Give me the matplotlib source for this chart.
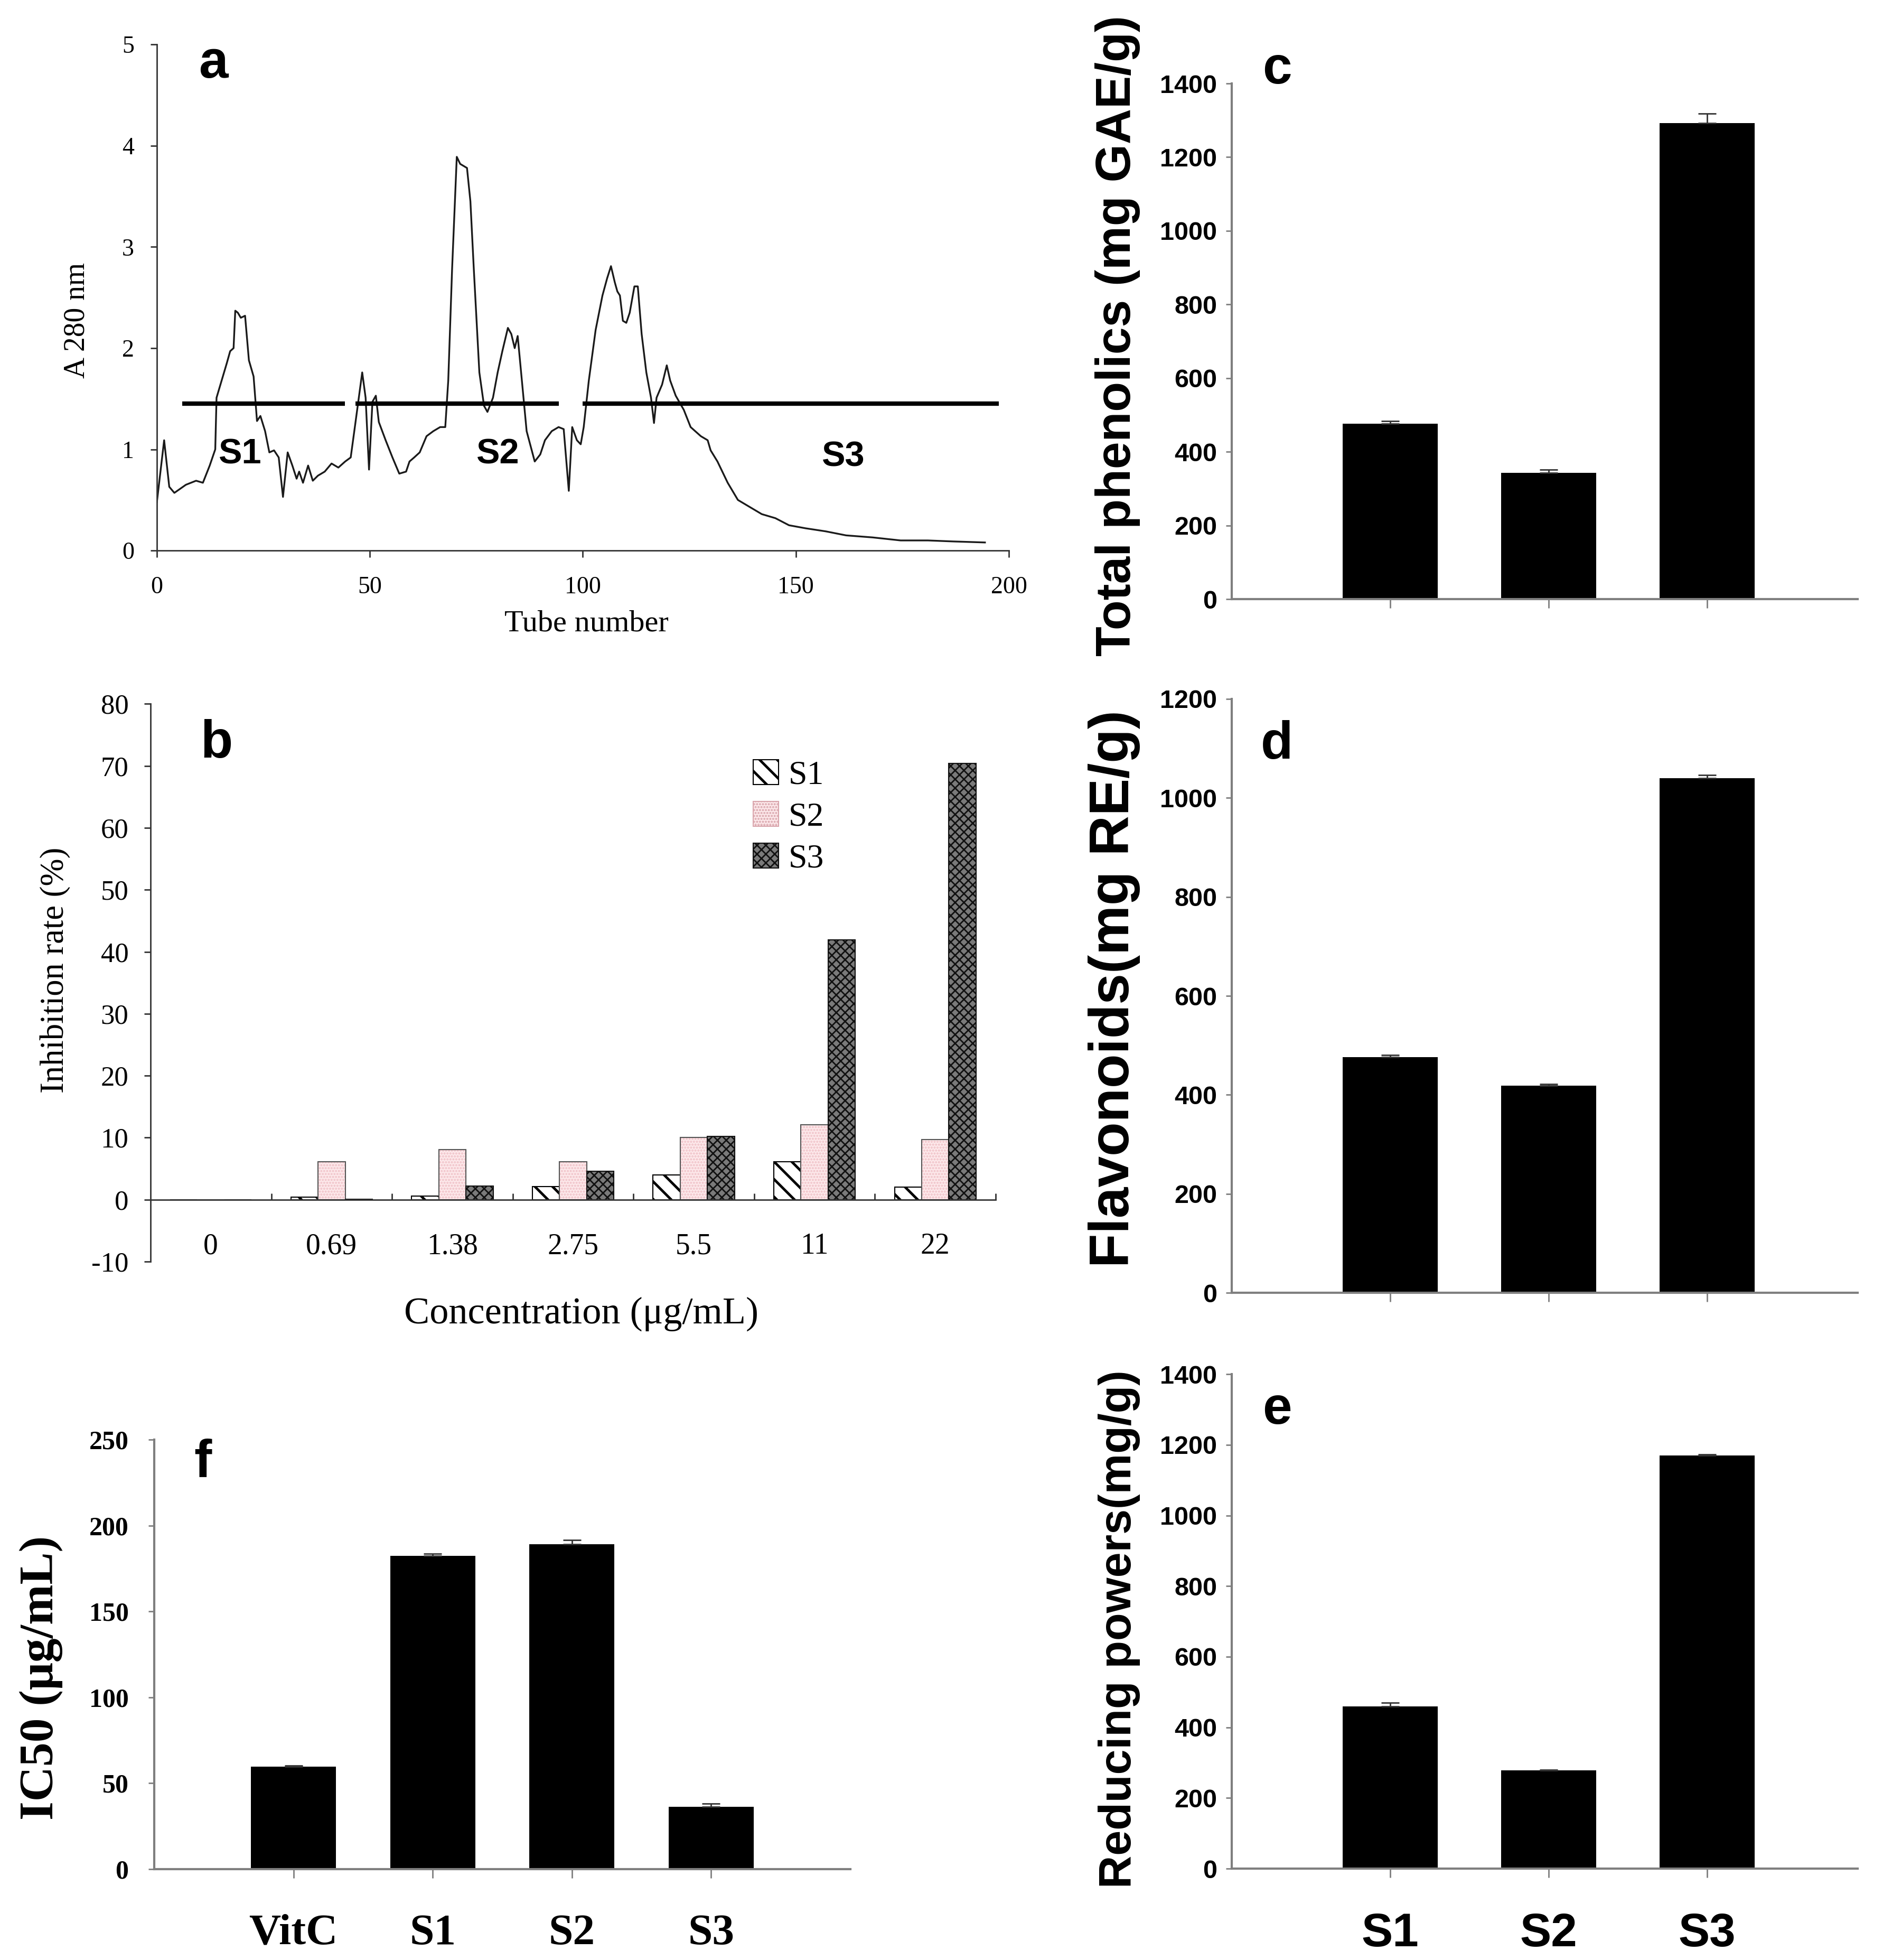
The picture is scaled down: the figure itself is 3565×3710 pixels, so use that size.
import matplotlib
matplotlib.use("Agg")
import matplotlib.pyplot as plt
import numpy as np
from matplotlib import font_manager
from matplotlib.patches import Patch

# ---------------- data ----------------
# panel a: elution profile
tube = [0, 1.7, 2.9, 4.1, 6.8, 9.2, 10.8, 12.4, 13.7, 14.0, 16.4, 17.2, 18.0, 18.4, 19.0,
        19.7, 20.7, 21.6, 22.7, 23.5, 24.3, 25.4, 26.4, 27.5, 28.6, 29.6, 30.7, 31.8, 32.8,
        33.4, 34.3, 35.5, 36.6, 37.8, 39.4, 41.0, 42.6, 44.2, 45.5, 46.6, 48.2, 49.0, 49.8,
        50.6, 51.4, 52.1, 53.7, 55.3, 56.9, 58.5, 59.3, 60.4, 61.7, 63.3, 64.9, 66.5, 67.7,
        68.4, 69.3, 70.4, 71.2, 72.0, 72.8, 73.6, 74.4, 75.7, 76.8, 77.6, 78.9, 80.0, 81.1,
        82.4, 83.2, 84.0, 84.7, 85.5, 86.8, 88.7, 90.0, 91.1, 92.7, 94.3, 95.5, 96.7, 97.5,
        98.6, 99.5, 100.2, 101.4, 103.0, 104.6, 105.7, 106.6, 107.5, 108.1, 108.7, 109.4,
        110.2, 111.0, 112.1, 112.9, 113.8, 114.9, 116.0, 116.7, 117.3, 118.6, 119.7, 120.5,
        121.8, 123.7, 125.3, 127.7, 129.3, 130.0, 131.6, 134.0, 136.4, 139.6, 142.0, 145.2,
        148.4, 152.3, 157.0, 161.8, 168.0, 174.6, 181.0, 187.0, 194.4]
a280 = [0.48, 1.09, 0.63, 0.57, 0.65, 0.69, 0.67, 0.84, 1.0, 1.51, 1.85, 1.97, 2.0, 2.37, 2.35,
        2.3, 2.32, 1.88, 1.72, 1.28, 1.33, 1.18, 0.97, 0.99, 0.92, 0.53, 0.97, 0.84, 0.71,
        0.78, 0.67, 0.84, 0.69, 0.74, 0.78, 0.86, 0.82, 0.88, 0.92, 1.26, 1.76, 1.51, 0.8,
        1.47, 1.53, 1.27, 1.09, 0.92, 0.76, 0.78, 0.88, 0.92, 0.97, 1.13, 1.18, 1.22, 1.22,
        1.68, 2.78, 3.89, 3.82, 3.8, 3.78, 3.45, 2.78, 1.76, 1.43, 1.37, 1.51, 1.76, 1.97,
        2.2, 2.14, 2.0, 2.12, 1.76, 1.18, 0.88, 0.95, 1.09, 1.18, 1.22, 1.2, 0.59, 1.22,
        1.09, 1.05, 1.22, 1.68, 2.18, 2.52, 2.69, 2.81, 2.65, 2.56, 2.52, 2.27,
        2.25, 2.35, 2.61, 2.61, 2.14, 1.76, 1.51, 1.26, 1.51, 1.64, 1.83, 1.68,
        1.53, 1.39, 1.22, 1.13, 1.09, 0.99, 0.88, 0.67, 0.5, 0.42, 0.36, 0.32,
        0.25, 0.22, 0.19, 0.15, 0.13, 0.10, 0.10, 0.09, 0.08]
fractions = ["S1", "S2", "S3"]
frac_start = [6, 46.6, 100]
frac_end = [44.2, 94.3, 197.6]
frac_level = 1.45
frac_label_x = [19.5, 80, 161]
frac_label_y = [0.95, 0.95, 0.92]

# panel b: inhibition rate
conc = ["0", "0.69", "1.38", "2.75", "5.5", "11", "22"]
inh_s1 = [0, 0.4, 0.6, 2.1, 4.0, 6.1, 2.0]
inh_s2 = [0, 6.1, 8.1, 6.1, 10.0, 12.1, 9.7]
inh_s3 = [0, 0.1, 2.2, 4.6, 10.2, 41.9, 70.4]

# panels c-e
samples = ["S1", "S2", "S3"]
phenolics = [477, 343, 1293]
phenolics_err = [6, 8, 25]
flavonoids = [476, 419, 1040]
flavonoids_err = [4, 3, 6]
reducing = [459, 278, 1170]
reducing_err = [11, 2, 3]

# panel f
ic50_names = ["VitC", "S1", "S2", "S3"]
ic50 = [59.6, 182.2, 189.1, 36.4]
ic50_err = [0.5, 1.5, 2.4, 1.8]

# ---------------- style ----------------
names = {f.name for f in font_manager.fontManager.ttflist}
SERIF = "Liberation Serif"
SANS = "Liberation Sans"
NARROW = "Liberation Sans Narrow" if "Liberation Sans Narrow" in names else SANS
plt.rcParams["hatch.linewidth"] = 2.0
plt.rcParams["axes.unicode_minus"] = False
GREY = "#7f7f7f"
HATCH_S1 = "\\"
HATCH_S3 = "xx"
S2_FACE = "#fde9eb"
S2_DOTS = "#f0c2c8"
S3_FACE = "#7a7a7a"

fig = plt.figure(figsize=(35.66, 37.10), dpi=100)


def letter(ax, s, x, y):
    ax.text(x, y, s, transform=ax.transAxes, ha="center", va="center",
            fontsize=72, fontweight="bold", family=SANS)


def thick_hatch(patches, lw):
    for p in patches:
        if hasattr(p, "set_hatch_linewidth"):
            p.set_hatch_linewidth(lw)


# ---------------- a ----------------
ax = fig.add_axes([0.0833, 0.7191, 0.4523, 0.2582])
ax.plot(tube, a280, color="#1a1a1a", lw=2.4)
ax.hlines([frac_level] * 3, frac_start, frac_end, color="black", lw=6)
for name, x, y in zip(fractions, frac_label_x, frac_label_y):
    ax.text(x, y, name, ha="center", va="center", fontsize=48, fontweight="bold", family=NARROW)
ax.set_xlim(0, 200)
ax.set_ylim(0, 5)
ax.set_xticks([0, 50, 100, 150, 200])
ax.set_yticks(range(6))
for s in ["top", "right"]:
    ax.spines[s].set_visible(False)
for s in ["left", "bottom"]:
    ax.spines[s].set_linewidth(2)
    ax.spines[s].set_color("#333333")
ax.tick_params(direction="out", length=9, width=2, color="#333333", labelsize=33, pad=22)
ax.tick_params(axis="x", pad=26)
for t in ax.get_xticklabels() + ax.get_yticklabels():
    t.set_family(SERIF)
ax.set_xlabel("Tube number", fontsize=42, family=SERIF)
ax.xaxis.set_label_coords(0.504, -0.117)
ax.xaxis.label.set_va("top")
ax.set_ylabel("A 280 nm", fontsize=40, family=SERIF)
ax.yaxis.set_label_coords(-0.078, 0.455)
letter(ax, "a", 0.066, 0.962)

# ---------------- b ----------------
ax = fig.add_axes([0.0799, 0.3563, 0.4487, 0.2846])
x = np.arange(len(conc)) + 0.5
w = 0.225
b1 = ax.bar(x - w, inh_s1, w, facecolor="white", edgecolor="black", hatch=HATCH_S1, lw=1.5)
thick_hatch(b1, 3.5)
ax.bar(x, inh_s2, w, facecolor=S2_FACE, edgecolor=S2_DOTS, hatch="...", lw=0)
ax.bar(x, inh_s2, w, fill=False, edgecolor="#555555", lw=1.5)
ax.bar(x + w, inh_s3, w, facecolor=S3_FACE, edgecolor="#111111", hatch=HATCH_S3, lw=1.5)
ax.set_xlim(0, 7)
ax.set_ylim(-10, 80)
ax.set_yticks(range(-10, 81, 10))
ax.set_xticks(np.arange(1, 8))
ax.set_xticklabels([])
ax.set_xticks(x, minor=True)
ax.set_xticklabels(conc, minor=True)
ax.spines["bottom"].set_position(("data", 0))
for s in ["top", "right"]:
    ax.spines[s].set_visible(False)
for s in ["left", "bottom"]:
    ax.spines[s].set_linewidth(2)
    ax.spines[s].set_color("#333333")
ax.tick_params(axis="y", direction="out", length=9, width=2, color="#333333", labelsize=38, pad=21)
ax.tick_params(axis="x", which="major", direction="in", length=9, width=2, color="#333333")
ax.tick_params(axis="x", which="minor", length=0, labelsize=40, pad=45)
for t in ax.get_xticklabels(minor=True) + ax.get_yticklabels():
    t.set_family(SERIF)
ax.set_xlabel("Concentration (μg/mL)", fontsize=52, family=SERIF)
ax.xaxis.set_label_coords(0.51, -0.0625)
ax.xaxis.label.set_va("top")
ax.set_ylabel("Inhibition rate (%)", fontsize=45, family=SERIF)
ax.yaxis.set_label_coords(-0.094, 0.523)
handles = [Patch(facecolor="white", edgecolor="black", hatch=HATCH_S1, lw=1.5, label="S1"),
           Patch(facecolor=S2_FACE, edgecolor="#d9a5ac", hatch="...", lw=1.5, label="S2"),
           Patch(facecolor=S3_FACE, edgecolor="#111111", hatch=HATCH_S3, lw=1.5, label="S3")]
thick_hatch(handles[:1], 3.5)
leg = ax.legend(handles=handles, loc="upper left", bbox_to_anchor=(0.693, 0.93), frameon=False,
                prop={"family": SERIF, "size": 46}, handlelength=0.75, handleheight=0.75,
                handletextpad=0.3, labelspacing=0.3, borderpad=0)
thick_hatch(leg.get_patches()[:1], 3.5)
letter(ax, "b", 0.078, 0.928)


# ---------------- c, d, e ----------------
def black_bars(rect, values, errs, top, step, ylabel, lab_size, lab_y, let, let_y, show_names):
    ax = fig.add_axes(rect)
    pos = np.arange(1, len(values) + 1)
    ax.bar(pos, values, 0.6, color="black")
    ax.errorbar(pos, values, yerr=[np.zeros(len(errs)), errs], fmt="none",
                ecolor="#333333", elinewidth=2, capsize=12, capthick=2)
    ax.set_xlim(0, 3.95)
    ax.set_ylim(0, top)
    ax.set_yticks(np.arange(0, top + 1, step))
    ax.set_xticks(pos)
    if show_names:
        ax.set_xticklabels(samples)
    else:
        ax.set_xticklabels([])
    for s in ["top", "right"]:
        ax.spines[s].set_visible(False)
    for s in ["left", "bottom"]:
        ax.spines[s].set_linewidth(3)
        ax.spines[s].set_color(GREY)
    ax.tick_params(axis="y", direction="out", length=8, width=2, color=GREY, labelsize=35, pad=12)
    ax.tick_params(axis="x", direction="out", length=12, width=2, color=GREY, labelsize=64, pad=47)
    for t in ax.get_xticklabels() + ax.get_yticklabels():
        t.set_family(NARROW)
        t.set_fontweight("bold")
    ax.set_ylabel(ylabel, fontsize=lab_size, family=SANS, fontweight="bold")
    ax.yaxis.set_label_coords(-0.146, lab_y)
    letter(ax, let, 0.072, let_y)
    return ax


black_bars([0.6540, 0.6943, 0.3323, 0.2631], phenolics, phenolics_err, 1400, 200,
           "Total phenolics (mg GAE/g)", 67, 0.511, "c", 1.027, False)
black_bars([0.6540, 0.3404, 0.3323, 0.3030], flavonoids, flavonoids_err, 1200, 200,
           "Flavonoids(mg RE/g)", 76, 0.512, "d", 0.923, False)
black_bars([0.6540, 0.0466, 0.3323, 0.2523], reducing, reducing_err, 1400, 200,
           "Reducing powers(mg/g)", 62, 0.485, "e", 0.927, True)

# ---------------- f ----------------
ax = fig.add_axes([0.0819, 0.0464, 0.3696, 0.2191])
pos = np.arange(1, len(ic50) + 1)
ax.bar(pos, ic50, 0.61, color="black")
ax.errorbar(pos, ic50, yerr=[np.zeros(len(ic50_err)), ic50_err], fmt="none",
            ecolor="#333333", elinewidth=2, capsize=12, capthick=2)
ax.set_xlim(0, 5)
ax.set_ylim(0, 250)
ax.set_yticks(range(0, 251, 50))
ax.set_xticks(pos)
ax.set_xticklabels(ic50_names)
for s in ["top", "right"]:
    ax.spines[s].set_visible(False)
for s in ["left", "bottom"]:
    ax.spines[s].set_linewidth(3)
    ax.spines[s].set_color(GREY)
ax.tick_params(axis="y", direction="out", length=8, width=2, color=GREY, labelsize=36, pad=27)
ax.tick_params(axis="x", direction="out", length=12, width=2, color=GREY, labelsize=60, pad=49)
for t in ax.get_xticklabels() + ax.get_yticklabels():
    t.set_family(SERIF)
    t.set_fontweight("bold")
ax.set_ylabel("IC50 (μg/mL)", fontsize=66, family=SERIF, fontweight="bold")
ax.yaxis.set_label_coords(-0.131, 0.445)
letter(ax, "f", 0.07, 0.946)

fig.savefig("out.png", dpi=100, facecolor="white")
